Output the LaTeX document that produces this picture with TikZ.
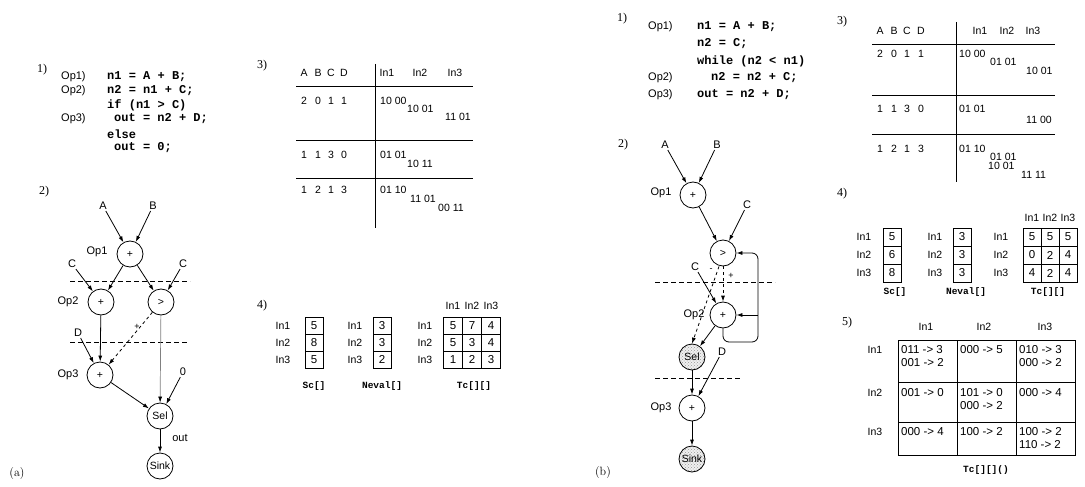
\documentclass[tikz,border=0pt]{standalone}
\usepackage{fontspec}
\setsansfont{Liberation Sans}
\setmonofont{Liberation Mono}
\newfontfamily\numfont{Liberation Serif}
\usetikzlibrary{arrows.meta, patterns}

\tikzset{
  lbl/.style={font=\sffamily\fontsize{11}{12}\selectfont, inner sep=1pt},
  small/.style={font=\sffamily\fontsize{9}{10}\selectfont, inner sep=0pt},
  code/.style={font=\ttfamily\bfseries\fontsize{12}{13}\selectfont, anchor=west, inner sep=0pt},
  part/.style={font=\numfont\fontsize{12}{12}\selectfont, inner sep=0pt},
  op/.style={circle, draw, line width=0.8pt, minimum size=26pt, inner sep=0pt,
    font=\sffamily\fontsize{10.5}{12}\selectfont, fill=white},
  opshade/.style={op, preaction={fill=gray!12}, pattern=crosshatch dots, pattern color=gray!80},
  arr/.style={-{Latex[length=6pt,width=4pt]}, line width=0.8pt},
  cut/.style={line width=0.8pt, dash pattern=on 5pt off 3pt},
  rule/.style={line width=0.9pt},
  tab/.style={font=\sffamily\fontsize{10.5}{12}\selectfont, inner sep=0pt},
  val/.style={tab, anchor=west},
  entry/.style={font=\sffamily\fontsize{11.5}{12}\selectfont, inner sep=0pt, anchor=west},
  cell/.style={draw, line width=0.8pt, minimum width=18pt, minimum height=17pt,
    inner sep=0pt, font=\sffamily\fontsize{11.5}{12}\selectfont},
  arrname/.style={font=\ttfamily\bfseries\fontsize{9.5}{10}\selectfont, inner sep=0pt},
}

\begin{document}
\begin{tikzpicture}[x=1pt, y=-1pt]
  \fill[white] (0,0) rectangle (1085,487);
  \useasboundingbox (0,0) rectangle (1085,487);

  %%%%%%%%%%%%%%%% (a) %%%%%%%%%%%%%%%%
  % source code
  \node[part] (pa1) at (42,70) {1)};
  \node[lbl, anchor=west] (oa1) at (60,77) {Op1)};
  \node[lbl, anchor=west] (oa2) at (60,91) {Op2)};
  \node[lbl, anchor=west] (oa3) at (60,119) {Op3)};
  \node[code] (ca1) at (107,77) {n1 = A + B;};
  \node[code] (ca2) at (107,91) {n2 = n1 + C;};
  \node[code] (ca3) at (107,105) {if (n1 > C)};
  \node[code] (ca4) at (114,119) {out = n2 + D;};
  \node[code] (ca5) at (107,134) {else};
  \node[code] (ca6) at (114,148) {out = 0;};

  % data flow graph
  \node[part] (pa2) at (44,192) {2)};
  \node[lbl] (Aa) at (103,206) {A};
  \node[lbl] (Ba) at (153,206) {B};
  \node[op] (op1a) at (130,254) {+};
  \node[lbl] (op1la) at (97,252) {Op1};
  \node[lbl] (Ca1) at (72,264) {C};
  \node[lbl] (Ca2) at (183,264) {C};
  \node[op] (op2a) at (101,302) {+};
  \node[lbl] (op2la) at (68,302) {Op2};
  \node[op] (gta) at (161,302) {>};
  \node[lbl] (Da) at (78,333) {D};
  \node[small] (pla) at (137,327) {+};
  \node[op] (op3a) at (100,375) {+};
  \node[lbl] (op3la) at (68,375) {Op3};
  \node[lbl] (za) at (183,372) {0};
  \node[op] (sela) at (160,416) {Sel};
  \node[op] (sinka) at (160,466) {Sink};
  \node[lbl] (outa) at (180,438) {out};

  \draw[cut] (70,281) -- (190,281);
  \draw[cut] (70,342) -- (188,342);

  \draw[arr] (Aa) -- (op1a);
  \draw[arr] (Ba) -- (op1a);
  \draw[arr] (op1a) -- (op2a);
  \draw[arr] (op1a) -- (gta);
  \draw[arr] (Ca1) -- (op2a);
  \draw[arr] (Ca2) -- (gta);
  \draw[arr] (op2a) -- (op3a);
  \draw[arr] (Da) -- (op3a);
  \draw[arr, dashed] (gta) -- (op3a);
  \draw[-{Latex[length=6pt,width=4pt,black]}, gray, line width=0.7pt] (gta) -- (sela);
  \draw[arr] (op3a) -- (sela);
  \draw[arr] (za) -- (sela);
  \draw[arr] (sela) -- (sinka);

  \node[font=\fontsize{12}{12}\selectfont] (capa) at (17,474) {(a)};

  % table 3)
  \node[part] (pa3) at (262,66) {3)};
  \foreach \t/\x in {A/304,B/318,C/331,D/344} \node[tab] (hda\t) at (\x,73) {\t};
  \foreach \t/\x in {1/387,2/420,3/455} \node[tab] (hia\t) at (\x,73) {In\t};
  \draw[rule] (296,86) -- (473,86);
  \draw[rule] (296,140) -- (473,140);
  \draw[rule] (296,178) -- (473,178);
  \draw[rule] (375,64) -- (375,228);
  \foreach \v/\x in {2/304,0/318,1/331,1/344} \node[tab] (r1a\x) at (\x,101) {\v};
  \foreach \v/\x in {1/304,1/318,3/331,0/344} \node[tab] (r2a\x) at (\x,155) {\v};
  \foreach \v/\x in {1/304,2/318,1/331,3/344} \node[tab] (r3a\x) at (\x,190) {\v};
  \node[val] (va11) at (380,101) {10 00};
  \node[val] (va12) at (407,109) {10 01};
  \node[val] (va13) at (445,117) {11 01};
  \node[val] (va21) at (380,155) {01 01};
  \node[val] (va22) at (407,164) {10 11};
  \node[val] (va31) at (380,190) {01 10};
  \node[val] (va32) at (410,199) {11 01};
  \node[val] (va33) at (438,208) {00 11};

  % table 4)
  \node[part] (pa4) at (262,306) {4)};
  \foreach \r/\y in {1/325.5,2/342.5,3/359.5} {
    \node[tab] (sla\r) at (283,\y) {In\r};
    \node[tab] (nla\r) at (355,\y) {In\r};
    \node[tab] (tla\r) at (425,\y) {In\r};
  }
  \foreach \v [count=\r] in {5,8,5} \node[cell] (sca\r) at (314,{308.5+17*\r}) {\v};
  \foreach \v [count=\r] in {3,3,2} \node[cell] (nva\r) at (382,{308.5+17*\r}) {\v};
  \foreach \a/\b/\c [count=\r] in {5/7/4,5/3/4,1/2/3} {
    \node[cell, minimum width=19pt] (tca\r1) at (453,{308.5+17*\r}) {\a};
    \node[cell, minimum width=19pt] (tca\r2) at (472,{308.5+17*\r}) {\b};
    \node[cell, minimum width=19pt] (tca\r3) at (491,{308.5+17*\r}) {\c};
  }
  \foreach \x [count=\i] in {453,472,491} \node[tab] (tha\i) at (\x,306) {In\i};
  \node[arrname] (capsca) at (314,386) {Sc[]};
  \node[arrname] (capnva) at (382,386) {Neval[]};
  \node[arrname] (captca) at (474,386) {Tc[][]};

  %%%%%%%%%%%%%%%% (b) %%%%%%%%%%%%%%%%
  % source code
  \node[part] (pb1) at (622,19) {1)};
  \node[lbl, anchor=west] (ob1) at (647,27) {Op1)};
  \node[lbl, anchor=west] (ob2) at (647,78) {Op2)};
  \node[lbl, anchor=west] (ob3) at (647,95) {Op3)};
  \node[code] (cb1) at (697,27) {n1 = A + B;};
  \node[code] (cb2) at (697,44) {n2 = C;};
  \node[code] (cb3) at (697,61) {while (n2 < n1)};
  \node[code] (cb4) at (711,78) {n2 = n2 + C;};
  \node[code] (cb5) at (697,95) {out = n2 + D;};

  % data flow graph
  \node[part] (pb2) at (623,145) {2)};
  \node[lbl] (Ab) at (665,145) {A};
  \node[lbl] (Bb) at (717,145) {B};
  \node[op] (op1b) at (693,195) {+};
  \node[lbl] (op1lb) at (661,193) {Op1};
  \node[lbl] (Cb1) at (747,205) {C};
  \node[op] (gtb) at (723,253) {>};
  \node[lbl] (Cb2) at (695,267) {C};
  \node[small] (mib) at (711,270) {-};
  \node[small] (plb) at (731,276) {+};
  \node[op] (op2b) at (723,315) {+};
  \node[lbl] (op2lb) at (694,315) {Op2};
  \node[opshade] (selb) at (692,357) {Sel};
  \node[lbl] (Db) at (722,352) {D};
  \node[op] (op3b) at (692,408) {+};
  \node[lbl] (op3lb) at (661,408) {Op3};
  \node[opshade] (sinkb) at (692,459) {Sink};

  \draw[cut] (655,282) -- (775,282);
  \draw[cut] (655,378) -- (740,378);

  \coordinate (loopbr) at (758,342);
  \coordinate (loopmid) at (758,315);
  \draw[arr] (Ab) -- (op1b);
  \draw[arr] (Bb) -- (op1b);
  \draw[arr] (op1b) -- (gtb);
  \draw[arr] (Cb1) -- (gtb);
  \draw[arr, dashed] (gtb) -- (op2b);
  \draw[arr, dashed] ([xshift=-4pt]gtb.south) -- (selb.north);
  \draw[arr] (Cb2) -- (op2b);
  \draw[arr, rounded corners=6pt] (op2b.south) |- (loopbr) |- (gtb.east);
  \draw[arr] (loopmid) -- (op2b.east);
  \draw[arr] (op2b) -- (selb);
  \draw[arr] (selb) -- (op3b);
  \draw[arr] (Db) -- (op3b);
  \draw[arr] (op3b) -- (sinkb);

  \node[font=\fontsize{12}{12}\selectfont] (capb) at (603,473) {(b)};

  % table 3)
  \node[part] (pb3) at (842,22) {3)};
  \foreach \t/\x in {A/880,B/894,C/907,D/921} \node[tab] (hdb\t) at (\x,31) {\t};
  \foreach \t/\x in {1/980,2/1007,3/1033} \node[tab] (hib\t) at (\x,31) {In\t};
  \draw[rule] (872,44) -- (1055,44);
  \draw[rule] (872,95) -- (1055,95);
  \draw[rule] (872,134) -- (1055,134);
  \draw[rule] (956,22) -- (956,182);
  \foreach \v/\x in {2/880,0/894,1/907,1/921} \node[tab] (r1b\x) at (\x,54) {\v};
  \foreach \v/\x in {1/880,1/894,3/907,0/921} \node[tab] (r2b\x) at (\x,109) {\v};
  \foreach \v/\x in {1/880,2/894,1/907,3/921} \node[tab] (r3b\x) at (\x,149) {\v};
  \node[val] (vb11) at (959,54) {10 00};
  \node[val] (vb12) at (990,62) {01 01};
  \node[val] (vb13) at (1026,71) {10 01};
  \node[val] (vb21) at (959,109) {01 01};
  \node[val] (vb22) at (1026,120) {11 00};
  \node[val] (vb31) at (959,149) {01 10};
  \node[val] (vb32) at (990,157) {01 01};
  \node[val] (vb33) at (988,166) {10 01};
  \node[val] (vb34) at (1021,175) {11 11};

  % table 4)
  \node[part] (pb4) at (842,194) {4)};
  \foreach \r/\y in {1/237,2/255,3/273} {
    \node[tab] (slb\r) at (864,\y) {In\r};
    \node[tab] (nlb\r) at (935,\y) {In\r};
    \node[tab] (tlb\r) at (1001,\y) {In\r};
  }
  \foreach \v [count=\r] in {5,6,8} \node[cell, minimum height=18pt] (scb\r) at (892,{219+18*\r}) {\v};
  \foreach \v [count=\r] in {3,3,3} \node[cell, minimum height=18pt] (nvb\r) at (962,{219+18*\r}) {\v};
  \foreach \a/\b/\c [count=\r] in {5/5/5,0/2/4,4/2/4} {
    \node[cell, minimum height=18pt] (tcb\r1) at (1032,{219+18*\r}) {\a};
    \node[cell, minimum height=18pt] (tcb\r2) at (1050,{219+18*\r}) {\b};
    \node[cell, minimum height=18pt] (tcb\r3) at (1068,{219+18*\r}) {\c};
  }
  \foreach \x [count=\i] in {1032,1050,1068} \node[tab] (thb\i) at (\x,218) {In\i};
  \node[arrname] (capscb) at (895,292) {Sc[]};
  \node[arrname] (capnvb) at (966,292) {Neval[]};
  \node[arrname] (captcb) at (1048,292) {Tc[][]};

  % table 5)
  \node[part] (pb5) at (847,323) {5)};
  \foreach \x [count=\i] in {926,984,1045} \node[tab] (t5h\i) at (\x,327) {In\i};
  \foreach \r/\y in {1/350,2/393,3/432} \node[tab] (t5l\r) at (875,\y) {In\r};
  \draw[rule] (898,340) rectangle (1075,455);
  \draw[rule] (957,340) -- (957,455);
  \draw[rule] (1016,340) -- (1016,455);
  \draw[rule] (898,382) -- (1075,382);
  \draw[rule] (898,422) -- (1075,422);
  \node[entry] (e11a) at (901,350) {011 -> 3};
  \node[entry] (e11b) at (901,363) {001 -> 2};
  \node[entry] (e12a) at (960,350) {000 -> 5};
  \node[entry] (e13a) at (1019,350) {010 -> 3};
  \node[entry] (e13b) at (1019,363) {000 -> 2};
  \node[entry] (e21a) at (901,393) {001 -> 0};
  \node[entry] (e22a) at (960,393) {101 -> 0};
  \node[entry] (e22b) at (960,406) {000 -> 2};
  \node[entry] (e23a) at (1019,393) {000 -> 4};
  \node[entry] (e31a) at (901,432) {000 -> 4};
  \node[entry] (e32a) at (960,432) {100 -> 2};
  \node[entry] (e33a) at (1019,432) {100 -> 2};
  \node[entry] (e33b) at (1019,445) {110 -> 2};
  \node[arrname] (captc5) at (986,470) {Tc[][]()};
\end{tikzpicture}
\end{document}
